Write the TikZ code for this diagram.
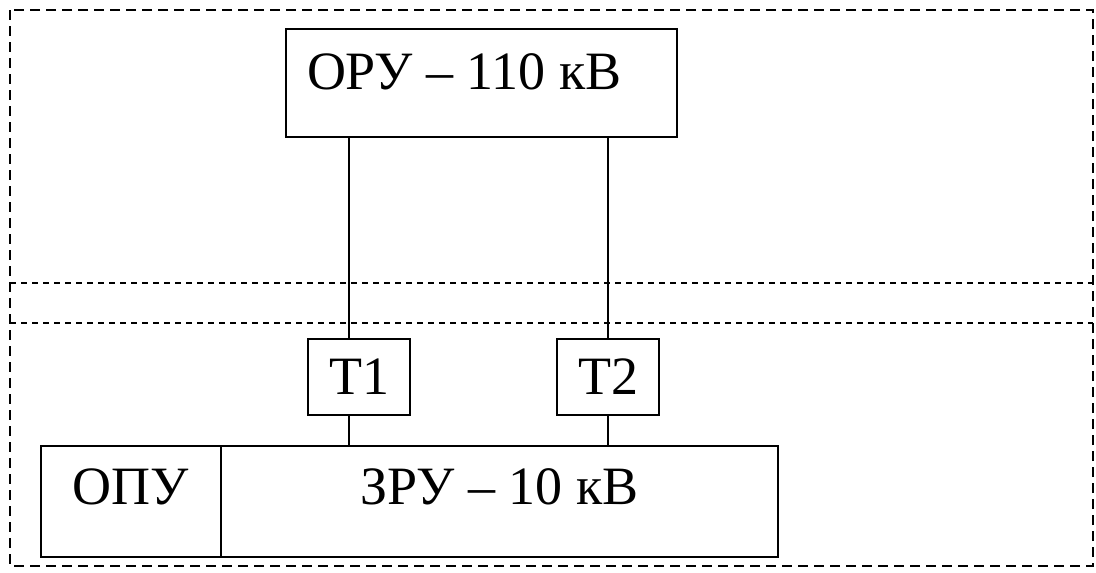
\documentclass[tikz,border=0pt]{standalone}
\usepackage{fontspec}
\setmainfont{Liberation Serif}
\usetikzlibrary{positioning}

\begin{document}
\begin{tikzpicture}[
		x=1pt,y=-1pt,
		every node/.style={font=\fontsize{54}{60}\selectfont},
		box/.style={draw, line width=2.2pt, inner sep=0pt, outer sep=0pt},
		wire/.style={line width=2pt},
		frame/.style={line width=2pt, dash pattern=on 10pt off 6pt},
		zone/.style={line width=1.6pt, dash pattern=on 6pt off 5pt}
		]
		
		\useasboundingbox (0,0) rectangle (1096,573);
		
		% =========================
		% Substation frame and zones
		% =========================
		\draw[frame] (10,10) rectangle (1093,566);
		\draw[zone] (10,283) -- (1093,283);
		\draw[zone] (10,323) -- (1093,323);
		
		% =========================
		% Switchgear and transformers
		% =========================
		\node[box, minimum width=391pt, minimum height=108pt, text depth=22pt]
			(oru) at (481.5,83) {\makebox[349pt][l]{ОРУ – 110 кВ}};
		
		\node[box, minimum width=102pt, minimum height=76pt] (t1) at (359,377) {T1};
		\node[box, minimum width=102pt, minimum height=76pt] (t2) at (608,377) {T2};
		
		\node[box, minimum width=180pt, minimum height=111pt, text depth=30pt] (opu) at (131,501.5) {ОПУ};
		\node[box, minimum width=557pt, minimum height=111pt, text depth=30pt,
			right=0pt of opu] (zru) {ЗРУ – 10 кВ};
		
		% connections
		\draw[wire] ([xshift=-10pt]t1.north) -- ([xshift=-10pt]t1.north |- oru.south);
		\draw[wire] (t2.north) -- (t2.north |- oru.south);
		\draw[wire] ([xshift=-10pt]t1.south) -- ([xshift=-10pt]t1.south |- zru.north);
		\draw[wire] (t2.south) -- (t2.south |- zru.north);
		
	\end{tikzpicture}
\end{document}
